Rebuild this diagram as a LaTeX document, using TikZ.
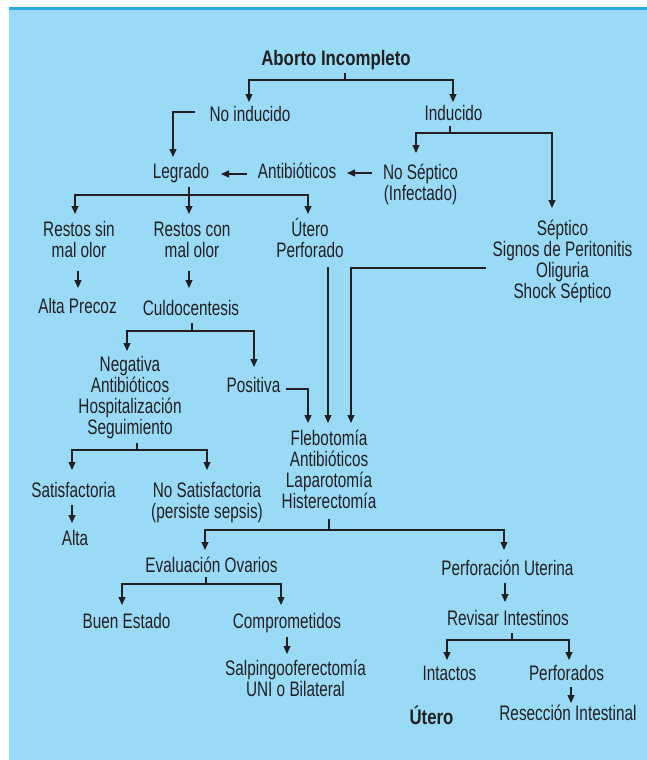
\documentclass[tikz,border=0pt]{standalone}
\usepackage{fontspec}
\setmainfont{Liberation Sans}[FakeStretch=0.73]
\newfontfamily\boldf{Liberation Sans}[FakeStretch=0.8]
\usetikzlibrary{arrows.meta}
\definecolor{bg}{RGB}{153,219,247}
\definecolor{stripe}{RGB}{41,171,226}
\definecolor{ink}{RGB}{35,31,32}
\begin{document}
\begin{tikzpicture}[x=1pt,y=-1pt,
  txt/.style={inner sep=0pt, anchor=base, align=center, text=ink,
    font=\fontsize{21}{21}\selectfont},
  ttl/.style={inner sep=0pt, anchor=base, align=center, text=ink,
    font=\fontsize{21}{21}\boldf\bfseries},
  ln/.style={draw=ink, line width=1.1pt},
  arr/.style={draw=ink, line width=1.1pt, -{Triangle[length=8pt,width=7pt]}}]
\useasboundingbox (0,0) rectangle (647,760);
\fill[bg] (9,7) rectangle (647,760);
\fill[stripe] (9,7) rectangle (647,10.5);

% nodes (base anchor = baseline of last line)
\node[ttl] (title) at (336,66) {Aborto Incompleto};
\node[txt] (noind) at (250,121) {No inducido};
\node[txt] (ind) at (453.5,120) {Inducido};
\node[txt] (legrado) at (181,178) {Legrado};
\node[txt] (antib1) at (297,178) {Antibióticos};
\node[txt] (nosep) at (420.5,200) {No Séptico\\(Infectado)};
\node[txt] (septico) at (562.5,298) {Séptico\\Signos de Peritonitis\\Oliguria\\Shock Séptico};
\node[txt] (rsin) at (79,257) {Restos sin\\mal olor};
\node[txt] (rcon) at (192,257) {Restos con\\mal olor};
\node[txt] (utp) at (310,257) {Útero\\Perforado};
\node[txt] (altap) at (77.5,313) {Alta Precoz};
\node[txt] (culdo) at (191,315) {Culdocentesis};
\node[txt] (neg) at (130,434) {Negativa\\Antibióticos\\Hospitalización\\Seguimiento};
\node[txt] (pos) at (253.5,392) {Positiva};
\node[txt] (fleb) at (329,508) {Flebotomía\\Antibióticos\\Laparotomía\\Histerectomía};
\node[txt] (satis) at (73.5,497) {Satisfactoria};
\node[txt] (nosatis) at (207,518) {No Satisfactoria\\(persiste sepsis)};
\node[txt] (alta) at (75,545) {Alta};
\node[txt] (evalov) at (211.5,572) {Evaluación Ovarios};
\node[txt] (perfut) at (507.5,575) {Perforación Uterina};
\node[txt] (buen) at (126.5,628) {Buen Estado};
\node[txt] (comp) at (287,628) {Comprometidos};
\node[txt] (salp) at (295.5,696) {Salpingooferectomía\\UNI o Bilateral};
\node[txt] (revisar) at (508,625) {Revisar Intestinos};
\node[txt] (intactos) at (449.5,680) {Intactos};
\node[txt] (perforados) at (566.5,680) {Perforados};
\node[txt] (reseccion) at (568,720) {Resección Intestinal};
\node[ttl] (utero) at (431.5,724) {Útero};

% connectors
\coordinate (t0) at (345,73);
\coordinate (t1) at (345,80);
\draw[ln] (t0) -- (t1);
\draw[arr] (t1) -| (249,102);
\draw[arr] (t1) -| (453,102);

\draw[arr] (195,112) -| (173,157);
\draw[arr] (247,174) -- (221,174);
\draw[arr] (372,173) -- (347,173);

\coordinate (i0) at (450,126);
\coordinate (i1) at (450,133);
\draw[ln] (i0) -- (i1);
\draw[arr] (i1) -| (416,153);
\draw[arr] (i1) -| (552,208);

\coordinate (l0) at (189,187);
\coordinate (l1) at (189,195);
\draw[arr] (l0) -- (189,214);
\draw[arr] (l1) -| (75,214);
\draw[arr] (l1) -| (308,214);

\draw[arr] (78,271) -- (78,288);
\draw[arr] (189,271) -- (189,288);

\draw[arr] (328,267) -- (328,423);
\draw[arr] (486,268) -| (351,423);

\coordinate (c0) at (192,323);
\coordinate (c1) at (192,331);
\draw[ln] (c0) -- (c1);
\draw[arr] (c1) -| (127,351);
\draw[arr] (c1) -| (254,367);

\draw[arr] (286,389) -| (308,423);

\coordinate (s0) at (137,443);
\coordinate (s1) at (137,450);
\draw[ln] (s0) -- (s1);
\draw[arr] (s1) -| (72,470);
\draw[arr] (s1) -| (207,470);

\draw[arr] (72,505) -- (72,523);

\coordinate (f0) at (329,519);
\coordinate (f1) at (329,530);
\draw[ln] (f0) -- (f1);
\draw[arr] (f1) -| (205,550);
\draw[arr] (f1) -| (504,550);

\coordinate (e0) at (206,577);
\coordinate (e1) at (206,584);
\draw[ln] (e0) -- (e1);
\draw[arr] (e1) -| (122,605);
\draw[arr] (e1) -| (281,605);

\draw[arr] (287,637) -- (287,654);
\draw[arr] (505,583) -- (505,602);

\coordinate (r0) at (512,633);
\coordinate (r1) at (512,640);
\draw[ln] (r0) -- (r1);
\draw[arr] (r1) -| (447,660);
\draw[arr] (r1) -| (569,660);

\draw[arr] (571,687) -- (571,703);
\end{tikzpicture}
\end{document}
